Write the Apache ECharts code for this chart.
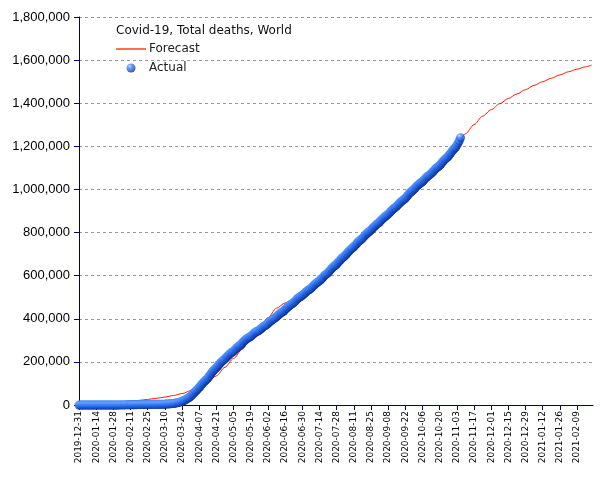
<!DOCTYPE html>
<html>
<head>
<meta charset="utf-8">
<script src="https://cdn.jsdelivr.net/npm/echarts@6/dist/echarts.min.js"></script>
<style>html,body{margin:0;padding:0;background:#fff;}#c{width:605px;height:480px;}</style>
</head>
<body>
<div id="c"></div>
<script>
// X categories: every day from first to last date
const startDate = '2019-12-31';
const endDate = '2021-02-22';

// Actual cumulative deaths, one value per day from 2019-12-31
const actDecJan20 = [0, 0,0,0,0,0,0,0,0,0,0, 1,1,1,1,2,2,2,3,3,4];
const actJan21_31 = [6,9,17,25,41,56,80,106,132,170,213];
const actFeb = [259,304,362,426,492,565,638,724,813,910,1018,1115,1261,1383,1526,1669,1775,1873,2009,2126,2247,2360,2460,2618,2699,2763,2800,2858,2923];
const actMar = [2977,3050,3117,3202,3285,3387,3494,3599,3827,4025,4296,4628,5073,5428,5833,6520,7162,7960,8919,10189,11628,13332,15135,17146,19468,22264,25319,29013,32351,35982,40001];
const actApr = [46000,52000,58000,64300,69500,74600,81500,88300,95400,101500,107700,113300,118600,124500,132000,140200,148600,156300,162400,167500,172900,180000,186900,193600,199800,205000,209100,213700,220100,226700];
const actMay = [232200,237600,242100,245900,250200,255700,261700,267300,272500,276500,280000,287500,293200,298600,303800,308600,312000,315300,319200,324000,328900,334000,338400,341700,343300,347200,352400,357400,362300,366500,369600];
const actJun = [373000,377500,383100,388400,393600,397800,401200,404600,409400,414700,419800,425000,429300,432800,436300,443300,448700,453700,459000,463500,467300,470600,475400,480900,486600,492800,497300,501000,504300,508900];
const actJul = [514000,519200,524300,529400,533500,537000,541300,547000,552500,558000,563300,567800,571400,575600,581200,587000,593000,600000,604700,608600,613000,620000,627000,633200,639400,644600,648500,653600,660000,666500,672800];
const actAug = [679000,684200,688300,694000,700600,707000,713200,719400,724600,728800,734000,740400,746500,752700,758800,764000,768000,773300,779800,786000,792000,797800,802700,806600,811700,817900,823900,829700,835300,840000,844000];
const actSep = [849000,855100,861000,866700,872100,876600,880700,885300,891200,897300,903300,909000,913700,917700,922600,928700,934600,940300,945800,950300,954300,959400,965700,971800,980000,985800,990500,995000,1000700,1006800];
const actOct = [1012900,1018800,1024300,1028700,1032400,1037000,1042900,1048900,1054800,1060300,1064700,1068600,1073400,1079600,1085800,1092000,1097800,1102300,1106300,1111500,1118300,1125000,1131700,1138100,1143400,1147600,1154000,1161300,1168800,1176300,1183400];
const actNov = [1190000,1196000,1205000,1215000,1226000,1240000];

// Forecast (weekly readings)
const fcDates = ['2019-12-31','2020-01-07','2020-01-14','2020-01-21','2020-01-28','2020-02-04','2020-02-11','2020-02-18','2020-02-25','2020-03-03','2020-03-10','2020-03-17','2020-03-24','2020-03-31','2020-04-07','2020-04-14','2020-04-21','2020-04-28','2020-05-05','2020-05-12','2020-05-19','2020-05-26','2020-06-02','2020-06-09','2020-06-16','2020-06-23','2020-06-30','2020-07-07','2020-07-14','2020-07-21','2020-07-28','2020-08-04','2020-08-11','2020-08-18','2020-08-25','2020-09-01','2020-09-08','2020-09-15','2020-09-22','2020-09-29','2020-10-06','2020-10-13','2020-10-20','2020-10-27','2020-11-03','2020-11-10','2020-11-17','2020-11-24','2020-12-01','2020-12-08','2020-12-15','2020-12-22','2020-12-29','2021-01-05','2021-01-12','2021-01-19','2021-01-26','2021-02-02','2021-02-09','2021-02-16','2021-02-21'];
const fcValues = [6000,7000,8500,10000,12000,14500,17500,21500,26000,31000,37000,44000,53000,66000,82000,108000,135000,175000,216000,258000,312000,352000,405000,449000,473000,490000,512000,541000,575000,613000,653000,694000,734000,773000,812000,849000,885000,923000,959000,1001000,1037000,1073000,1111000,1154000,1205000,1258000,1300000,1340000,1370000,1398000,1422000,1443000,1463000,1483000,1500000,1516000,1531000,1546000,1558000,1569000,1577000];

const chartTitle = 'Covid-19, Total deaths, World';
const seriesNames = ['Forecast', 'Actual'];

function pad(n){return n<10?'0'+n:''+n;}
const categories = [];
(function(){
  const d = new Date(startDate + 'T00:00:00Z');
  const e = new Date(endDate + 'T00:00:00Z');
  while (d <= e) {
    categories.push(d.getUTCFullYear()+'-'+pad(d.getUTCMonth()+1)+'-'+pad(d.getUTCDate()));
    d.setUTCDate(d.getUTCDate()+1);
  }
})();

const actual = [].concat(actDecJan20, actJan21_31, actFeb, actMar, actApr, actMay, actJun, actJul, actAug, actSep, actOct, actNov);
const forecast = fcDates.map((d,i)=>[d, fcValues[i]]);

const ball = {
  type: 'radial', x: 0.35, y: 0.3, r: 0.8,
  colorStops: [
    {offset: 0, color: '#c4e2ff'},
    {offset: 0.22, color: '#5a9cff'},
    {offset: 0.55, color: '#2366e8'},
    {offset: 0.8, color: '#1240b0'},
    {offset: 1, color: '#04155a'}
  ]
};

const axisColor = '#000066';
const chart = echarts.init(document.getElementById('c'), null, {renderer: 'canvas'});
chart.setOption({
  animation: false,
  backgroundColor: '#ffffff',
  title: {
    text: chartTitle, left: 111, top: 20,
    textStyle: {fontFamily: 'DejaVu Sans', fontSize: 12, fontWeight: 'normal', color: '#111'}
  },
  legend: {
    orient: 'vertical', left: 116, top: 43, padding: 0,
    itemWidth: 30, itemHeight: 9, itemGap: 7,
    textStyle: {fontFamily: 'DejaVu Sans', fontSize: 12, color: '#222', padding: [0,0,0,-2]},
    data: [
      {name: seriesNames[0], icon: 'path://M0,4 L30,4 L30,5.4 L0,5.4 Z', itemStyle: {color: '#ff3000'}},
      {name: seriesNames[1], icon: 'circle', itemStyle: {color: ball}}
    ]
  },
  grid: {left: 79, right: 12, top: 17, bottom: 75, containLabel: false},
  xAxis: {
    type: 'category', data: categories, boundaryGap: false,
    axisLine: {lineStyle: {color: axisColor, width: 1}},
    axisTick: {interval: 13, length: 5, lineStyle: {color: axisColor}},
    axisLabel: {interval: 13, rotate: 90, margin: 6, fontFamily: 'DejaVu Sans', fontSize: 9, color: '#000'},
    splitLine: {show: false}
  },
  yAxis: {
    type: 'value', min: 0, max: 1800000, interval: 200000,
    axisLine: {show: true, lineStyle: {color: axisColor, width: 1}},
    axisTick: {show: true, length: 5, lineStyle: {color: axisColor}},
    axisLabel: {margin: 9, fontFamily: 'Liberation Sans', fontSize: 13, color: '#000',
      formatter: v => v.toLocaleString('en-US')},
    splitLine: {show: true, lineStyle: {color: '#999', type: [3,3], width: 1}}
  },
  series: [
    {name: seriesNames[0], type: 'line', data: forecast, symbol: 'none', smooth: 0.3, smoothMonotone: 'x',
      lineStyle: {color: '#ff1a00', width: 1}, itemStyle: {color: '#ff3000'}, z: 2},
    {name: seriesNames[1], type: 'scatter', data: actual, symbol: 'circle', symbolSize: 9,
      itemStyle: {color: ball}, z: 3}
  ]
});
</script>
</body>
</html>
